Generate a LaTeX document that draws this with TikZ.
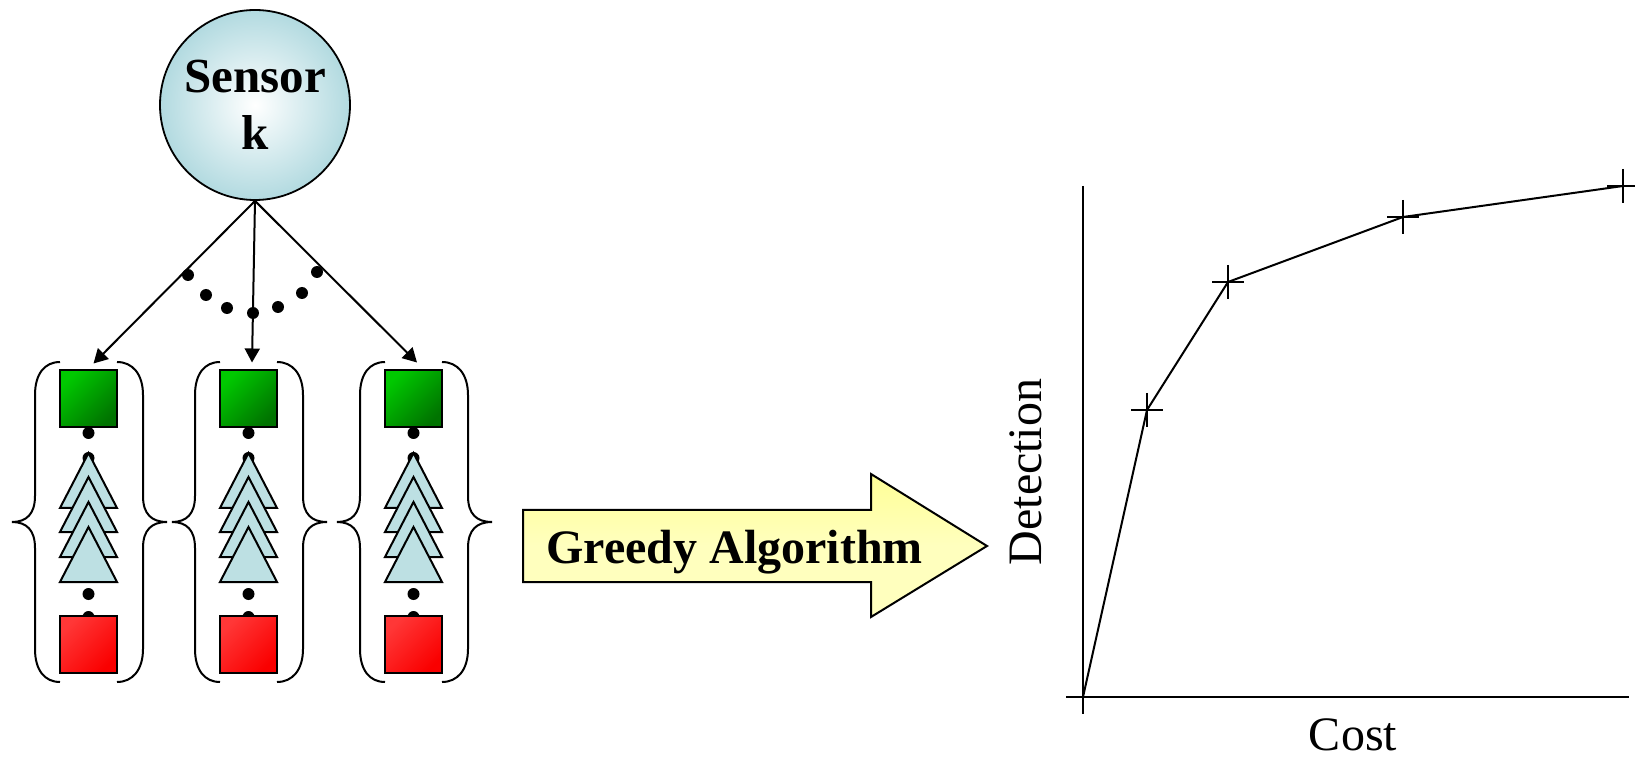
\documentclass[tikz,border=0pt]{standalone}
\usepackage{fontspec}
\setmainfont{Liberation Serif}
\usetikzlibrary{arrows.meta,calc}
\definecolor{gbright}{RGB}{0,200,0}
\definecolor{gdark}{RGB}{0,115,0}
\definecolor{rbright}{RGB}{255,55,55}
\definecolor{rdark}{RGB}{250,0,0}
\definecolor{cyanout}{RGB}{178,218,224}
\definecolor{trifill}{RGB}{189,224,227}
\definecolor{yel}{RGB}{255,255,150}
\definecolor{yellight}{RGB}{255,255,190}
\tikzset{
  ln/.style={line width=1pt},
  arr/.style={line width=1pt,-{Triangle[length=7pt,width=7.5pt]}},
  greensq/.style={draw,line width=1pt,minimum size=28.5pt,inner sep=0pt,top color=gbright,bottom color=gdark,shading angle=45},
  redsq/.style={draw,line width=1pt,minimum size=28.5pt,inner sep=0pt,top color=rbright,bottom color=rdark,shading angle=45},
  tri/.style={draw,line width=1pt,fill=trifill,line join=miter},
  dotc/.style={fill=black},
  brace/.style={line width=1pt},
}
\begin{document}
\begin{tikzpicture}[x=0.5pt,y=-0.5pt]
\useasboundingbox (0,0) rectangle (1635,759);
% sensor
\node[circle,draw,line width=0.9pt,minimum size=95pt,inner sep=0pt,inner color=white,outer color=cyanout,align=center,font=\fontsize{24.5}{28.5}\selectfont\bfseries] (s) at (255,105) {Sensor\\k};
% columns
\foreach \cx/\i in {88.5/1,248.5/2,413.5/3}{
  \fill[dotc] (\cx,433) circle[radius=3pt];
  \fill[dotc] (\cx,458) circle[radius=3pt];
  \fill[dotc] (\cx,594) circle[radius=3pt];
  \fill[dotc] (\cx,617) circle[radius=3pt];
  \foreach \a in {453,477,502,527}{
    \draw[tri] (\cx,\a) -- ({\cx+28.5},{\a+55}) -- ({\cx-28.5},{\a+55}) -- cycle;
  }
  \node[greensq] (g\i) at (\cx,399) {};
  \node[redsq] (r\i) at (\cx,644.5) {};
  % left brace
  \draw[brace] ({\cx-28.5},362) .. controls ({\cx-44},362) and ({\cx-53.5},374) .. ({\cx-53.5},395)
     -- ({\cx-53.5},496) .. controls ({\cx-53.5},514) and ({\cx-62},522) .. ({\cx-76.5},522)
     .. controls ({\cx-62},522) and ({\cx-53.5},530) .. ({\cx-53.5},548)
     -- ({\cx-53.5},649) .. controls ({\cx-53.5},670) and ({\cx-44},682) .. ({\cx-28.5},682);
  % right brace
  \draw[brace] ({\cx+28.5},362) .. controls ({\cx+44},362) and ({\cx+54.5},374) .. ({\cx+54.5},395)
     -- ({\cx+54.5},496) .. controls ({\cx+54.5},514) and ({\cx+63},522) .. ({\cx+78.5},522)
     .. controls ({\cx+63},522) and ({\cx+54.5},530) .. ({\cx+54.5},548)
     -- ({\cx+54.5},649) .. controls ({\cx+54.5},670) and ({\cx+44},682) .. ({\cx+28.5},682);
}
% arrows from sensor
\draw[arr] (s.south) -- ($(g1.north)+(5,-6)$);
\draw[arr] (s.south) -- ($(g2.north)+(3.5,-7)$);
\draw[arr] (s.south) -- ($(g3.north)+(3.5,-7)$);
% dots between arrows
\foreach \x/\y in {188/275,206/295,227/308,253/313,278/307,302/293,317/272}{
  \fill[dotc] (\x,\y) circle[radius=3pt];
}
% greedy arrow
\draw[line width=1pt,top color=yel,bottom color=yellight,middle color=yellight]
  (523,510) -- (871,510) -- (871,474) -- (987,546) -- (871,617) -- (871,582) -- (523,582) -- cycle;
\node[anchor=base,font=\fontsize{24}{28}\selectfont\bfseries] (ga) at (734.5,563) {Greedy Algorithm};
% chart
\coordinate (o) at (1083,697);
\coordinate (ytop) at (1083,186);
\coordinate (ybot) at (1083,714);
\coordinate (xl) at (1066,697);
\coordinate (xr) at (1629,697);
\coordinate (p1) at (1147,410);
\coordinate (p2) at (1228,282);
\coordinate (p3) at (1403,217);
\coordinate (p4) at (1623,186);
\draw[ln] (ytop) -- (ybot);
\draw[ln] (xl) -- (xr);
\draw[ln] (o) -- (p1) -- (p2) -- (p3) -- (p4);
\foreach \p in {p1,p2,p3,p4}{
  \draw[ln] ($(\p)+(-16,0)$) -- ($(\p)+(16,0)$);
  \draw[ln] ($(\p)+(0,-17)$) -- ($(\p)+(0,17)$);
}
\node[rotate=90,font=\fontsize{24}{28}\selectfont] (det) at (1026,472) {Detection};
\node[anchor=base,font=\fontsize{24}{28}\selectfont] (cost) at (1353,750) {Cost};
\end{tikzpicture}
\end{document}
